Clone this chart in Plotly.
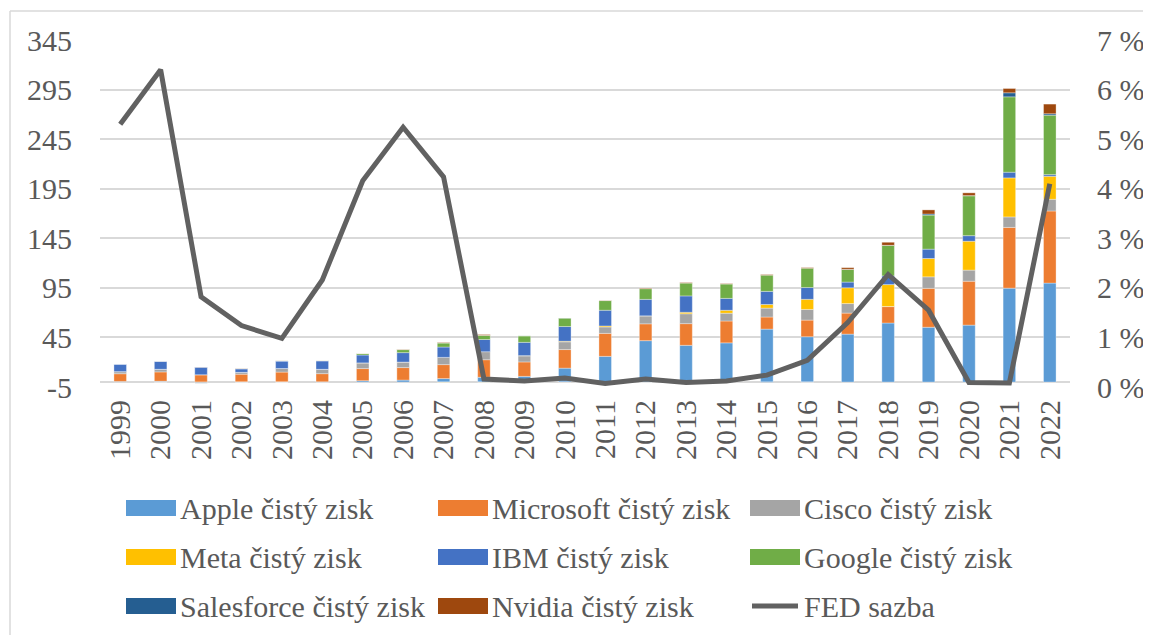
import plotly.graph_objects as go

years = [str(y) for y in range(1999, 2023)]

apple = [0.60, 0.79, -0.03, 0.07, 0.07, 0.28, 1.33, 1.99, 3.50, 4.83, 5.70, 14.01,
         25.92, 41.73, 37.04, 39.51, 53.39, 45.69, 48.35, 59.53, 55.26, 57.41, 94.68, 99.80]
microsoft = [7.79, 9.42, 7.35, 7.83, 9.99, 8.17, 12.25, 12.60, 14.07, 17.68, 14.57, 18.76,
             23.15, 16.98, 21.86, 22.07, 12.19, 16.80, 21.20, 16.57, 39.24, 44.28, 61.27, 72.74]
cisco = [2.10, 2.67, -1.01, 1.89, 3.58, 4.40, 5.74, 5.58, 7.33, 8.05, 6.13, 7.77,
         6.49, 8.04, 9.98, 7.85, 8.98, 10.74, 9.61, 0.11, 11.62, 11.21, 10.59, 11.81]
meta = [0.0, 0.0, 0.0, 0.0, 0.0, 0.0, 0.0, 0.0, -0.14, -0.06, 0.23, 0.61,
        1.00, 0.05, 1.50, 2.94, 3.69, 10.22, 15.93, 22.11, 18.49, 29.15, 39.37, 23.20]
ibm = [7.71, 8.09, 7.72, 3.58, 7.58, 8.43, 7.93, 9.49, 10.42, 12.33, 13.43, 14.83,
       15.86, 16.60, 16.48, 12.02, 13.19, 11.87, 5.75, 8.73, 9.43, 5.59, 5.74, 1.64]
google = [0.0, 0.0, 0.01, 0.10, 0.11, 0.40, 1.47, 3.08, 4.20, 4.23, 6.52, 8.51,
          9.74, 10.74, 12.92, 14.44, 16.35, 19.48, 12.66, 30.74, 34.34, 40.27, 76.03, 59.97]
salesforce = [0.0, -0.03, -0.13, -0.04, -0.01, 0.004, 0.03, 0.03, 0.0005, 0.02, 0.04, 0.08,
              0.06, -0.01, -0.27, -0.23, -0.26, -0.05, 0.18, 0.13, 1.11, 0.13, 4.07, 1.44]
nvidia = [0.004, 0.04, 0.10, 0.18, 0.09, 0.07, 0.10, 0.30, 0.45, 0.80, -0.03, -0.07,
          0.25, 0.58, 0.56, 0.44, 0.63, 0.61, 1.67, 3.05, 4.14, 2.80, 4.33, 9.75]
fed_rate = [5.30, 6.40, 1.82, 1.24, 0.98, 2.16, 4.16, 5.24, 4.24, 0.16, 0.12, 0.18,
            0.07, 0.16, 0.09, 0.12, 0.24, 0.54, 1.30, 2.27, 1.55, 0.09, 0.08, 4.10]

left_ticks = [-5, 45, 95, 145, 195, 245, 295, 345]
right_ticks = [0, 1, 2, 3, 4, 5, 6, 7]
right_labels = [f"{v} %" for v in right_ticks]

series = [
    ("Apple čistý zisk", apple, "#5B9BD5"),
    ("Microsoft čistý zisk", microsoft, "#ED7D31"),
    ("Cisco čistý zisk", cisco, "#A5A5A5"),
    ("Meta čistý zisk", meta, "#FFC000"),
    ("IBM čistý zisk", ibm, "#4472C4"),
    ("Google čistý zisk", google, "#70AD47"),
    ("Salesforce čistý zisk", salesforce, "#255E91"),
    ("Nvidia čistý zisk", nvidia, "#9E480E"),
]
line_name = "FED sazba"
line_color = "#616161"

FONT = "Liberation Serif, Times New Roman, serif"
TXT = "#595959"
GRID = "#D9D9D9"
FS = 30

OFF = 8  # page body margin offset
W, H = 1151 - OFF, 635 - OFF
L, R, T, B = 100 - OFF, 1070 - OFF, 40 - OFF, 387 - OFF

fig = go.Figure()
for name, vals, col in series:
    fig.add_trace(go.Bar(x=years, y=vals, name=name, marker_color=col,
                         marker_line=dict(width=0.6, color="rgba(255,255,255,0.55)"),
                         showlegend=False))
fig.add_trace(go.Scatter(x=years, y=fed_rate, name=line_name, yaxis="y2", mode="lines",
                         line=dict(color=line_color, width=5), showlegend=False))

def px2x(px):
    return (px - OFF - L) / (R - L)

def py2y(py):
    return (B - (py - OFF)) / (B - T)

shapes = []
annotations = []
# outer border (top & left)
shapes.append(dict(type="line", xref="paper", yref="paper", x0=px2x(10), x1=px2x(1160), y0=py2y(11), y1=py2y(11),
                   line=dict(color=GRID, width=1.5)))
shapes.append(dict(type="line", xref="paper", yref="paper", x0=px2x(10), x1=px2x(10), y0=py2y(11), y1=py2y(650),
                   line=dict(color=GRID, width=1.5)))

# manual legend
cols_sw = [126, 438, 750]
rows_y = [508, 557, 606]
items = [(n, c) for n, _, c in series] + [(line_name, None)]
for i, (name, col) in enumerate(items):
    r, c = divmod(i, 3)
    x0 = cols_sw[c]
    yc = rows_y[r]
    if col is not None:
        shapes.append(dict(type="rect", xref="paper", yref="paper",
                           x0=px2x(x0), x1=px2x(x0 + 50), y0=py2y(yc + 8), y1=py2y(yc - 8),
                           fillcolor=col, line=dict(width=0)))
    else:
        shapes.append(dict(type="line", xref="paper", yref="paper",
                           x0=px2x(x0 + 2), x1=px2x(x0 + 48), y0=py2y(yc), y1=py2y(yc),
                           line=dict(color=line_color, width=5)))
    annotations.append(dict(text=name, xref="paper", yref="paper", x=px2x(x0 + 52), y=py2y(yc),
                            xanchor="left", yanchor="middle", showarrow=False,
                            font=dict(family=FONT, size=FS, color=TXT)))

fig.update_layout(
    width=W, height=H,
    margin=dict(l=L, r=W - R, t=T, b=H - B, pad=0, autoexpand=False),
    paper_bgcolor="white", plot_bgcolor="white",
    barmode="relative", bargap=0.69,
    font=dict(family=FONT, size=FS, color=TXT),
    showlegend=False,
    xaxis=dict(type="category", showgrid=False, showline=False, ticks="",
               tickangle=-90, tickfont=dict(family=FONT, size=FS, color=TXT),
               ticklabelstandoff=6),
    yaxis=dict(range=[-5, 345], tickvals=left_ticks, ticktext=[str(v) for v in left_ticks],
               showgrid=True, gridcolor=GRID, gridwidth=1.5,
               zeroline=True, zerolinecolor=GRID, zerolinewidth=1.5,
               showline=False, ticks="", tickfont=dict(family=FONT, size=FS, color=TXT),
               ticklabelstandoff=27),
    yaxis2=dict(range=[0, 7], overlaying="y", side="right", tickvals=right_ticks, ticktext=right_labels,
                showgrid=False, zeroline=False, showline=False, ticks="",
                tickfont=dict(family=FONT, size=FS, color=TXT), ticklabelstandoff=26),
    shapes=shapes,
    annotations=annotations,
)

fig.write_html("out.html")
